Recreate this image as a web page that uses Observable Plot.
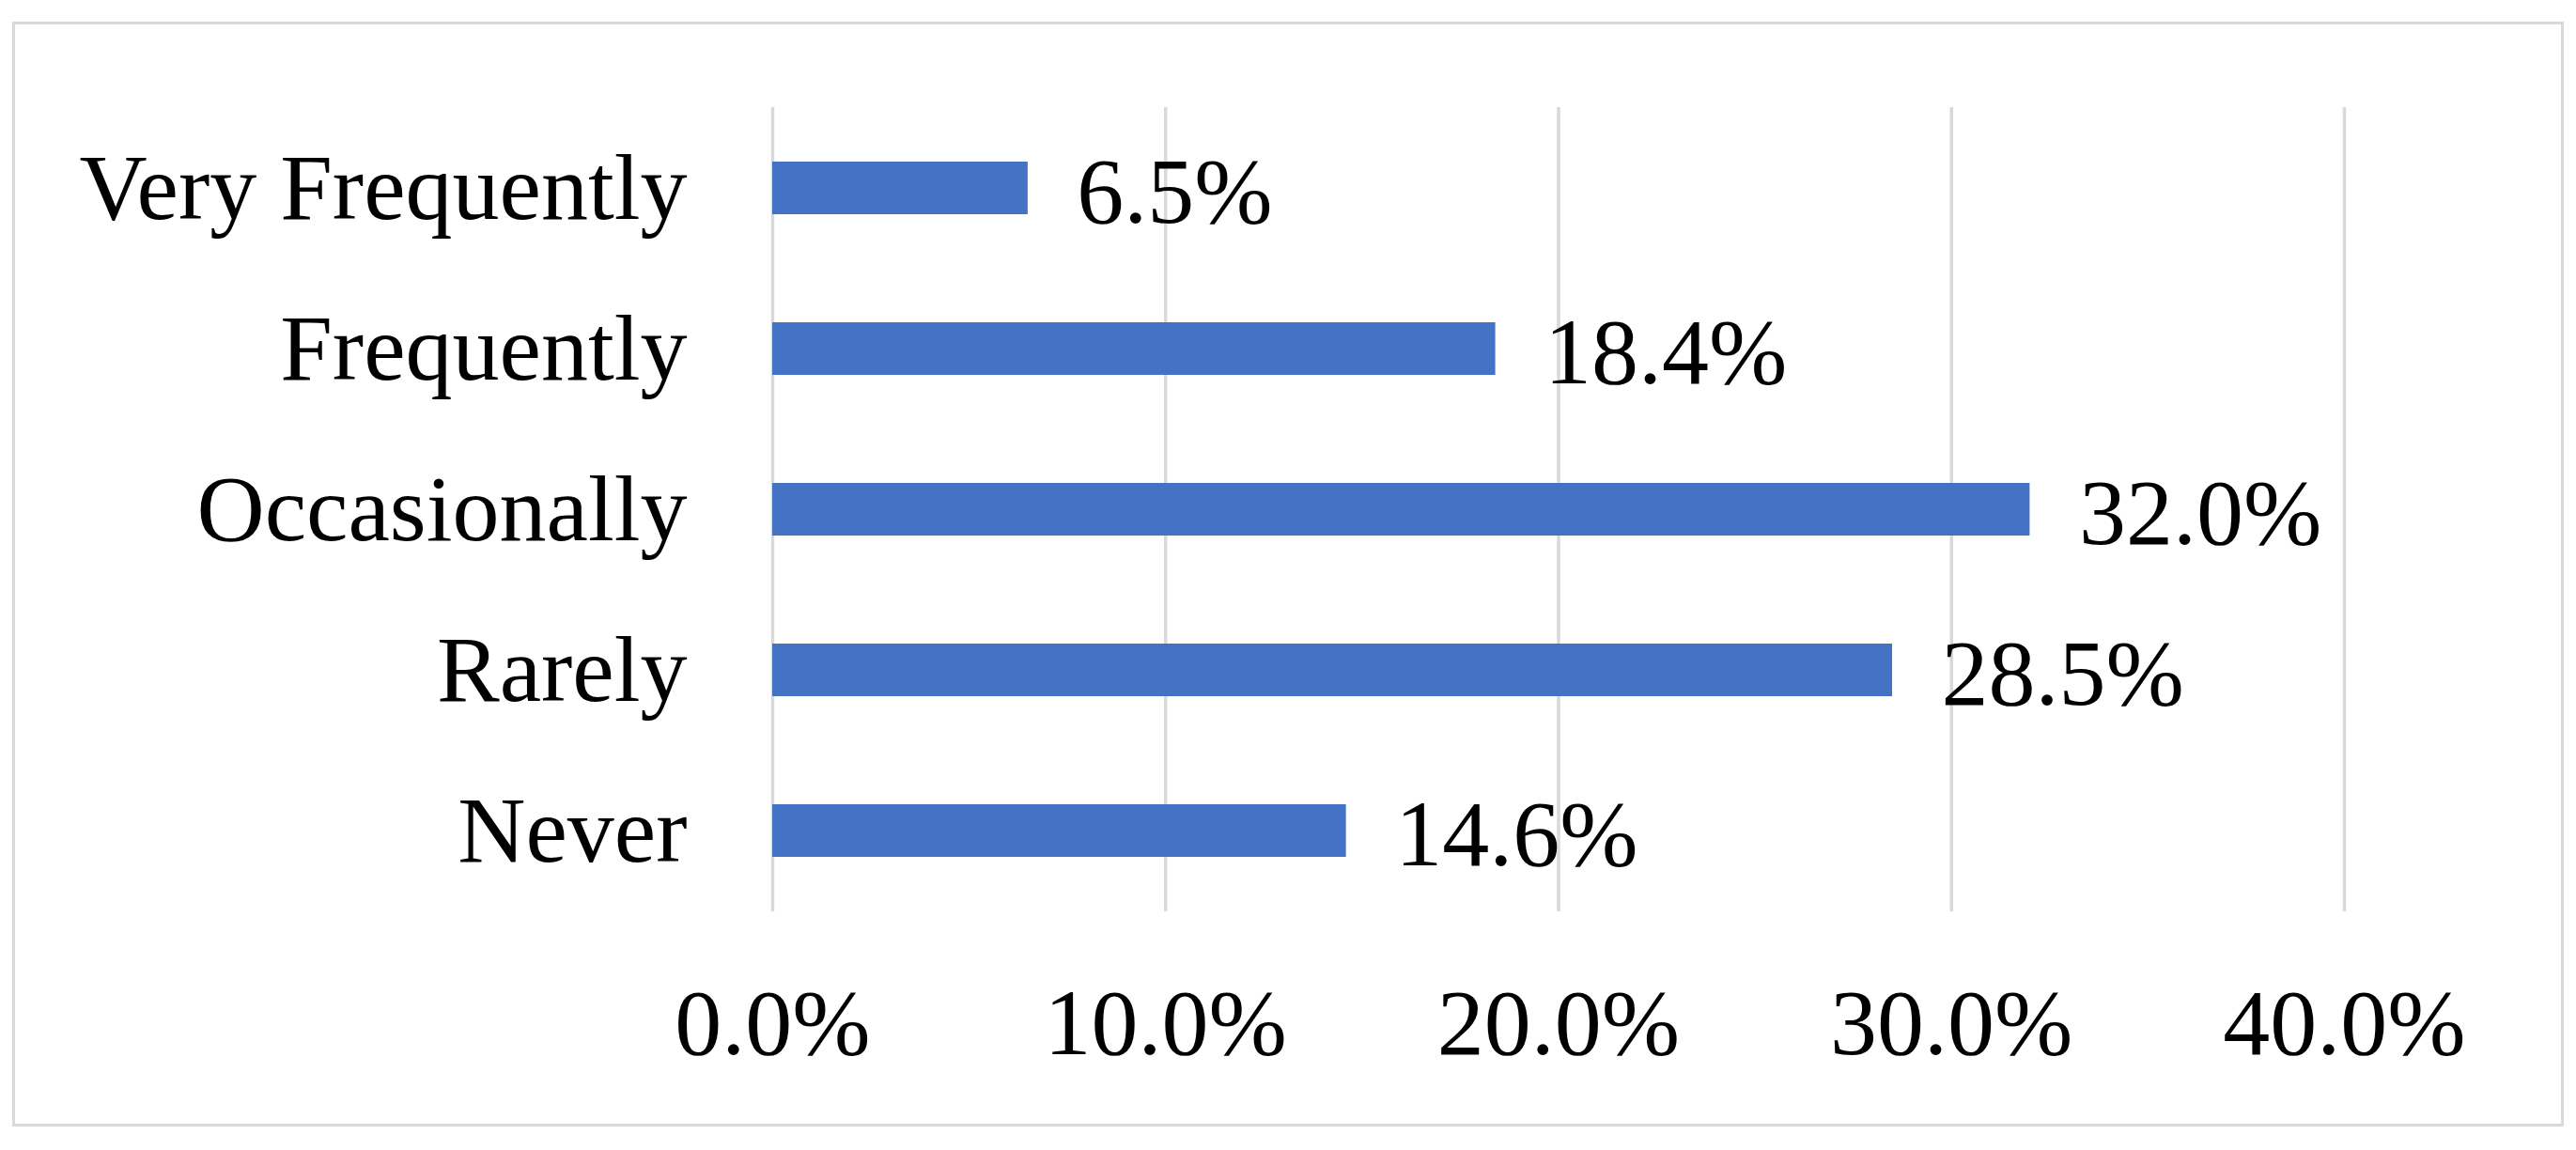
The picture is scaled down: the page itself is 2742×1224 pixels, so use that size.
<!DOCTYPE html>
<html>
<head>
<meta charset="utf-8">
<script src="https://cdn.jsdelivr.net/npm/d3@7"></script>
<script src="https://cdn.jsdelivr.net/npm/@observablehq/plot@0.6"></script>
<style>
  html, body { margin: 0; padding: 0; background: #ffffff; }
  #wrap { position: relative; width: 2742px; height: 1224px; overflow: hidden; }
  #border { position: absolute; left: 13px; top: 23px; width: 2710px; height: 1170px; border: 3.5px solid #d9d9d9; box-sizing: content-box; pointer-events: none; }
  #chart { position: absolute; left: 0; top: 0; }
</style>
</head>
<body>
<div id="wrap"><div id="chart"></div><div id="border"></div></div>
<script>
const categories = ["Very Frequently", "Frequently", "Occasionally", "Rarely", "Never"];
const values = [6.5, 18.4, 32.0, 28.5, 14.6];
const xTicks = [0, 10, 20, 30, 40];

const data = categories.map((c, i) => ({category: c, value: values[i]}));
const fmt = d => d.toFixed(1) + "%";

const chart = Plot.plot({
  width: 2742,
  height: 1224,
  marginLeft: 822,
  marginRight: 247,
  marginTop: 114,
  marginBottom: 254,
  style: {fontFamily: "'Liberation Serif', 'Times New Roman', serif", fontSize: "100px", color: "#000", background: "transparent"},
  x: {domain: [0, 40], ticks: xTicks, label: null},
  y: {domain: categories, paddingInner: 0.67, paddingOuter: 0.335, align: 0.5, label: null},
  marks: [
    Plot.gridX(xTicks, {stroke: "#d9d9d9", strokeOpacity: 1, strokeWidth: 3.5}),
    Plot.barX(data, {x: "value", y: "category", fill: "#4472C4"}),
    Plot.text(data, {x: "value", y: "category", text: d => fmt(d.value), textAnchor: "start", dx: 52, dy: 4, fill: "#000", fontSize: 100}),
    Plot.axisX(xTicks, {tickSize: 0, tickPadding: 80, tickFormat: fmt, fontSize: 100, fill: "#000", label: null}),
    Plot.axisY({tickSize: 0, tickPadding: 91, fontSize: 100, fill: "#000", label: null})
  ]
});
document.getElementById("chart").appendChild(chart);
</script>
</body>
</html>
